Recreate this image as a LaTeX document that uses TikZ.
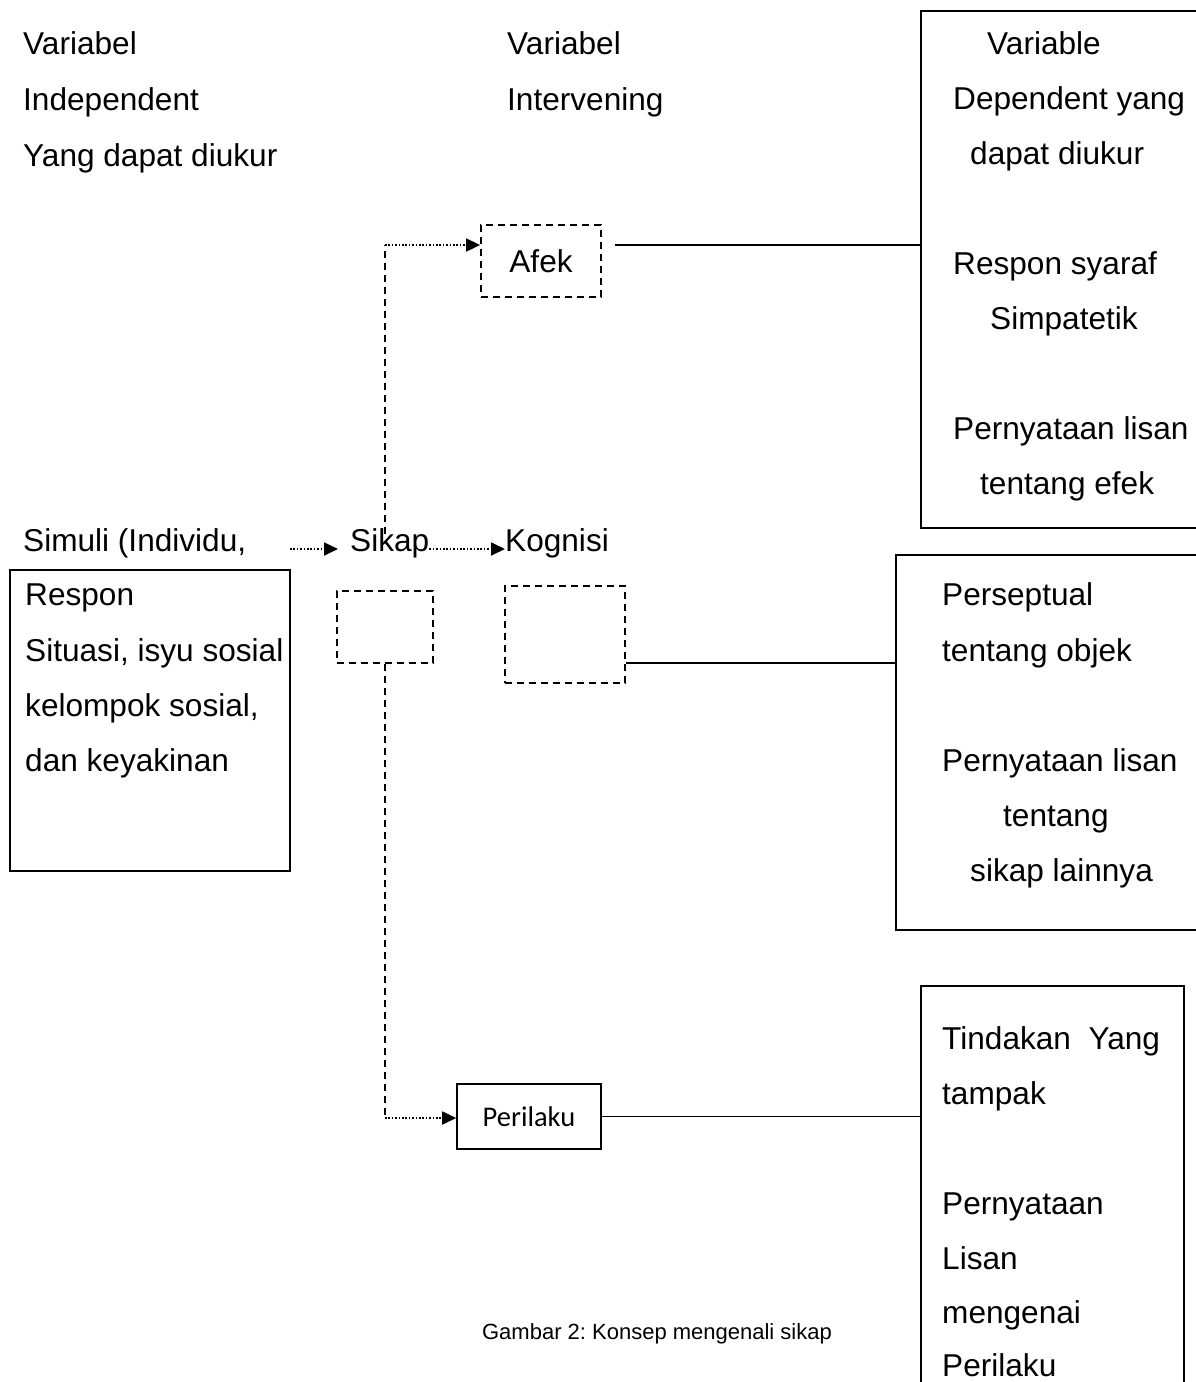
\documentclass[tikz,border=0pt]{standalone}
\usepackage{fontspec}
\setmainfont{Liberation Sans}
\newfontfamily\calib{Carlito}
\usetikzlibrary{arrows.meta}
\frenchspacing
\begin{document}
\begin{tikzpicture}[x=1pt,y=-1pt,
  txt/.style={anchor=base west,inner sep=0pt,font=\fontsize{31.6}{37}\selectfont},
  solidbox/.style={draw,line width=1.6pt,inner sep=0pt},
  dashbox/.style={draw,line width=1.8pt,dash pattern=on 7pt off 5pt,inner sep=0pt},
  dashline/.style={line width=1.8pt,dash pattern=on 7pt off 5pt},
  dotline/.style={line width=1.8pt,dash pattern=on 1.6pt off 1.8pt},
  tip/.style={-{Triangle[length=14pt,width=13pt]}},
  conn/.style={line width=1.6pt}]
\clip (0,0) rectangle (1196,1382);
\fill[white] (0,0) rectangle (1196,1382);

% header texts
\node[txt] (h1) at (23,54) {Variabel};
\node[txt] (h2) at (23,110) {Independent};
\node[txt] (h3) at (23,166) {Yang dapat diukur};
\node[txt] (m1) at (507,54) {Variabel};
\node[txt] (m2) at (507,110) {Intervening};

% right top box
\node[solidbox,minimum width=300pt,minimum height=517pt,anchor=north west] (rtop) at (920,10) {};
\node[txt] (r1) at (987,54) {Variable};
\node[txt] (r2) at (953,109) {Dependent yang};
\node[txt] (r3) at (970,164) {dapat diukur};
\node[txt] (r4) at (953,274) {Respon syaraf};
\node[txt] (r5) at (990,329) {Simpatetik};
\node[txt] (r6) at (953,439) {Pernyataan lisan};
\node[txt] (r7) at (980,494) {tentang efek};

% right middle box
\node[solidbox,minimum width=320pt,minimum height=375pt,anchor=north west] (rmid) at (895,554) {};
\node[txt] (q1) at (942,605) {Perseptual};
\node[txt] (q2) at (942,661) {tentang objek};
\node[txt] (q3) at (942,771) {Pernyataan lisan};
\node[txt] (q4) at (1003,826) {tentang};
\node[txt] (q5) at (970,881) {sikap lainnya};

% right bottom box
\node[solidbox,minimum width=263pt,minimum height=420pt,anchor=north west] (rbot) at (920,985) {};
\node[txt] (b1) at (942,1049) {Tindakan\ \ Yang};
\node[txt] (b2) at (942,1104) {tampak};
\node[txt] (b3) at (942,1214) {Pernyataan};
\node[txt] (b4) at (942,1269) {Lisan};
\node[txt] (b5) at (942,1323) {mengenai};
\node[txt] (b6) at (942,1376) {Perilaku};

% left box
\node[solidbox,minimum width=280pt,minimum height=301pt,anchor=north west] (lbox) at (9,569) {};
\node[txt] (s0) at (23,551) {Simuli (Individu,};
\node[txt] (s1) at (25,605) {Respon};
\node[txt] (s2) at (25,661) {Situasi, isyu sosial};
\node[txt] (s3) at (25,716) {kelompok sosial,};
\node[txt] (s4) at (25,771) {dan keyakinan};

% middle row
\node[txt] (sikap) at (350,551) {Sikap};
\node[txt] (kog) at (505,551) {Kognisi};

% dashed boxes
\node[dashbox,minimum width=120pt,minimum height=72pt,font=\fontsize{31.6}{37}\selectfont] (afek) at (541,261) {Afek};
\node[dashbox,minimum width=96pt,minimum height=72pt] (sbox) at (385,627) {};
\node[dashbox,minimum width=120pt,minimum height=97pt] (kbox) at (565,634.5) {};
\node[solidbox,minimum width=144pt,minimum height=65pt,font=\calib\fontsize{28.5}{34}\selectfont] (peril) at (529,1116.5) {Perilaku};

% caption
\node[inner sep=0pt,font=\fontsize{22}{26}\selectfont] (cap) at (657,1334) {Gambar 2: Konsep mengenali sikap};

% coordinates
\coordinate (a0) at (290,549);
\coordinate (vtop) at (385,245);
\coordinate (vbot) at (385,534);
\coordinate (pcorner) at (385,1118);
\coordinate (afekout) at ([xshift=13pt,yshift=16pt]afek.east);
\coordinate (kogout) at ([yshift=-28.5pt]kbox.east);

% dotted arrows on the middle row
\draw[dotline,tip] (a0) -- ([xshift=-12pt]sikap.base west |- a0);
\draw[dotline,tip] (sikap.base east |- a0) -- (kog.base west |- a0);

% to Afek
\draw[dashline] (vbot) -- (vtop);
\draw[dotline,tip] (vtop) -- (afek.west |- vtop);

% to Perilaku
\draw[dashline] (sbox.south) -- (pcorner);
\draw[dotline,tip] (pcorner) -- (peril.west |- pcorner);

% solid connectors
\draw[conn] (afekout) -- (rtop.west |- afekout);
\draw[conn] (kogout) -- (rmid.west |- kogout);
\draw[conn] (peril.east) -- (rbot.west |- peril.east);
\end{tikzpicture}
\end{document}
